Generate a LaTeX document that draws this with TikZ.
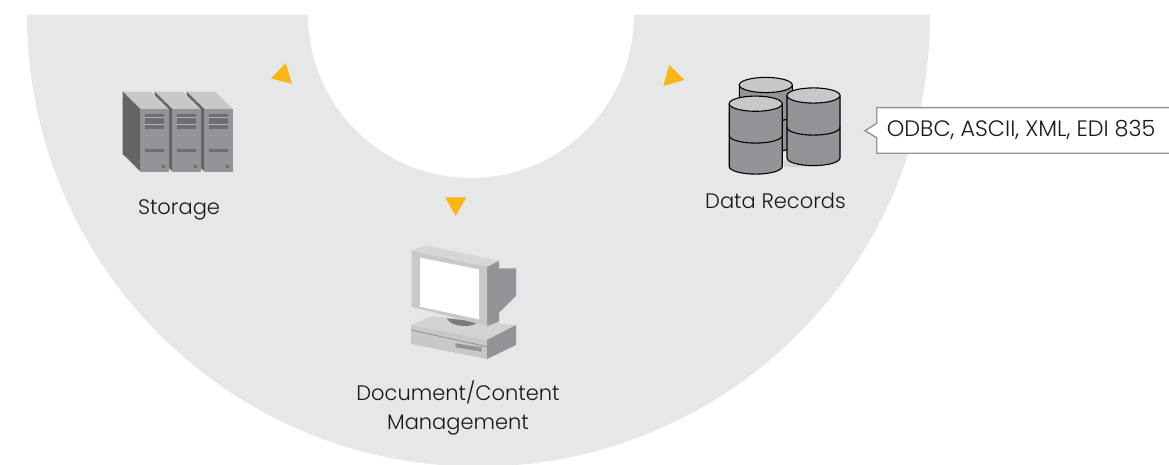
\documentclass[tikz,border=0pt]{standalone}
\usepackage{fontspec}
\setmainfont{Poppins Light}
\tikzset{>=stealth}
\definecolor{ringgray}{HTML}{E6E7E8}
\definecolor{arrowgold}{HTML}{FDB515}
\definecolor{topgray}{HTML}{C7C8CA}
\definecolor{frontgray}{HTML}{929497}
\definecolor{sidegray}{HTML}{636466}
\definecolor{ventgray}{HTML}{6D6E71}
\definecolor{inkgray}{HTML}{1A1718}
\tikzset{
  lbl/.style={text=inkgray, font=\fontsize{21}{29}\selectfont, align=center},
  pointer/.style={fill=arrowgold, draw=none},
  dbline/.style={draw=black, line width=1.1pt}
}
% one stacked cylinder: center x, then y of the top, middle and bottom ellipse
\newcommand{\dbcyl}[4]{
\fill[frontgray] (#1-26.5,#2) -- (#1-26.5,#4) arc[start angle=180,end angle=0,x radius=26.5,y radius=7.6] -- (#1+26.5,#2) -- cycle;
\draw[dbline] (#1-26.5,#2) -- (#1-26.5,#4) arc[start angle=180,end angle=0,x radius=26.5,y radius=7.6] -- (#1+26.5,#2);
\draw[dbline] (#1-26.5,#3) arc[start angle=180,end angle=0,x radius=26.5,y radius=7.6];
\draw[dbline, fill=topgray] (#1,#2) ellipse[x radius=26.5,y radius=7.6];
}
\begin{document}
\begin{tikzpicture}[x=1pt,y=-1pt]
\useasboundingbox (0,0) rectangle (1169,465);
\begin{scope}
\clip (0,0) rectangle (1169,465);
\fill[ringgray] (27,15) arc[start angle=180,end angle=0,radius=451.5] -- (634,15) arc[start angle=0,end angle=180,radius=163] -- cycle;
\end{scope}
% arrows
\fill[pointer] (285.7,63.3) -- (292,84) -- (271,78.3) -- cycle;
\fill[pointer] (669.3,65) -- (684.3,80) -- (663.3,86) -- cycle;
\fill[pointer] (445,197.3) -- (466.3,197.3) -- (455.7,216) -- cycle;
% servers, back one first
\foreach \dx in {64,32,0} {
\begin{scope}[xshift=\dx pt]
\fill[topgray] (122.7,91.7) -- (151,91.7) -- (169,109.3) -- (140.7,109.3) -- cycle;
\fill[sidegray] (122.7,91.7) -- (140.7,109.3) -- (140.7,171.7) -- (122.7,154) -- cycle;
\fill[frontgray] (140.7,109.3) rectangle (169,171.7);
\fill[ventgray] (145,114) rectangle (164,129);
\draw[frontgray!70!white, line width=0.6pt] (145,117.7) -- (164,117.7) (145,124.6) -- (164,124.6);
\fill[ventgray] (145,149) rectangle (164,152);
\fill[ventgray] (162,165) rectangle (165,168);
\end{scope}
}
\node[lbl] (storage) at (179,209.5) {Storage};
% database
\fill[topgray!80] (784,160) -- (815,160) -- (815,166.5) -- (784,167) -- cycle;
\dbcyl{765.8}{85}{114.5}{145}
\dbcyl{813.5}{95.5}{127.5}{158}
\dbcyl{755.7}{103.7}{135.5}{166.5}
\node[lbl] (records) at (775.5,201) {Data Records};
% callout
\draw[frontgray, fill=white, line width=1.4pt] (1172,107.7) -- (876.7,107.7) -- (876.7,123.3) -- (865,130.7) -- (876.7,137.7) -- (876.7,153.3) -- (1172,153.3);
\node[lbl, anchor=west, inner sep=0pt, font=\fontsize{22.3}{29}\selectfont] (formats) at (886.7,130) {ODBC, ASCII, XML, EDI 835};
% computer
\fill[topgray!80] (411,325) -- (431.7,316) -- (516,325) -- (487,340) -- cycle;
\fill[topgray] (411,325) -- (487,340) -- (487,359) -- (411,344) -- cycle;
\fill[frontgray] (487,340) -- (516,325) -- (516,345) -- (487,359) -- cycle;
\draw[frontgray, line width=0.9pt] (411,330) -- (487,346.7);
\fill[frontgray] (455.7,343.3) -- (481.7,347.3) -- (481.7,351.7) -- (455.7,347.3) -- cycle;
\fill[ventgray!90] (446.7,318.3) -- (478,321.7) .. controls (476,327) and (452,329) .. (446.7,318.3) -- cycle;
\fill[frontgray] (487,266.7) -- (499,260.7) -- (499,268.3) -- (516,268.3) -- (516,296) -- (499,312.7) -- (499,321.7) -- (487,326) -- cycle;
\fill[topgray!75] (411.7,251) -- (425,245) -- (499,260.7) -- (487,266.7) -- cycle;
\fill[topgray] (411.7,251) -- (487,266.7) -- (487,326) -- (411.7,306.7) -- cycle;
\fill[white] (420,257.7) -- (479,269.3) -- (479,319.3) -- (420,306.7) -- cycle;
\node[lbl] (docmgmt) at (458,407.5) {Document/Content\\Management};
\end{tikzpicture}
\end{document}
